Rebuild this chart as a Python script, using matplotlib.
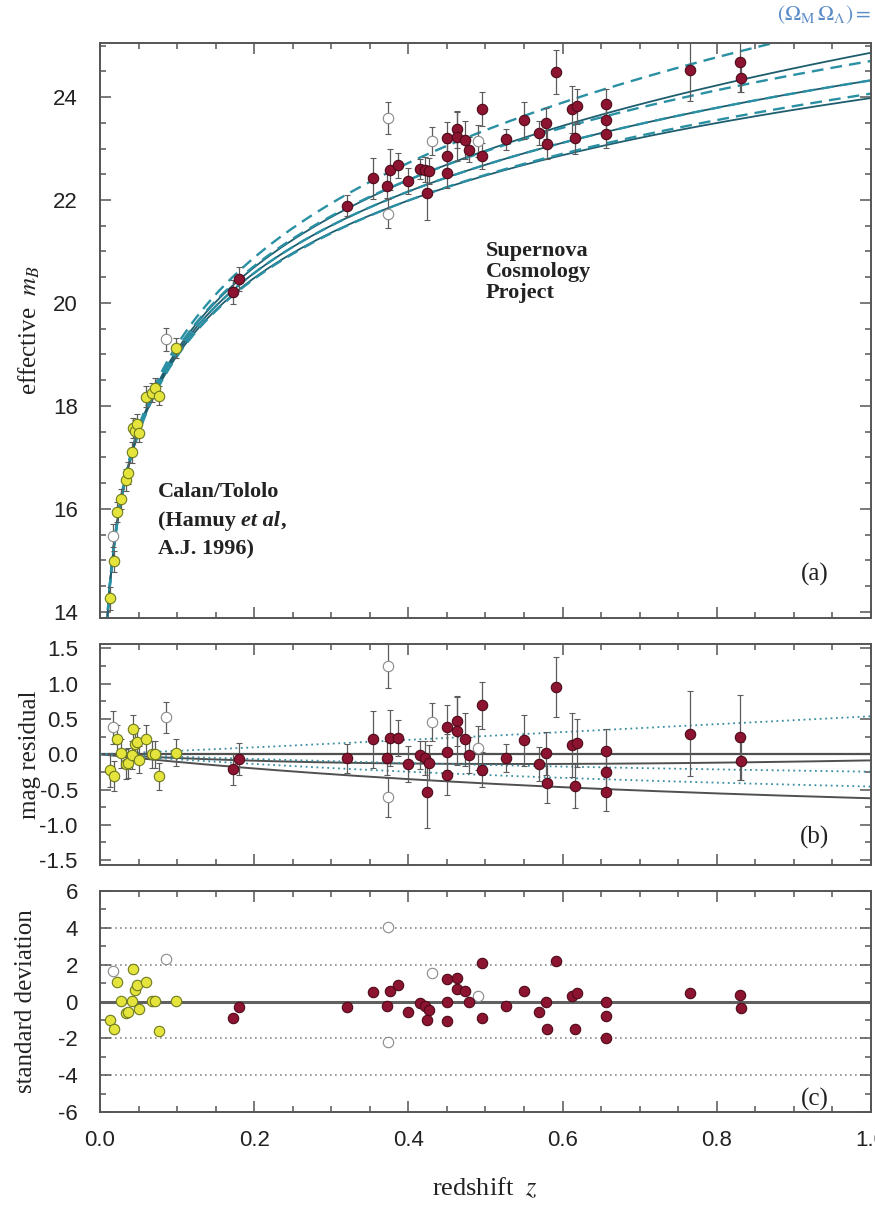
import numpy as np
import matplotlib
matplotlib.use('Agg')
import matplotlib.pyplot as plt
from matplotlib.ticker import MultipleLocator

plt.rcParams['font.family'] = 'Liberation Sans'
plt.rcParams['mathtext.fontset'] = 'stix'
plt.rcParams['axes.unicode_minus'] = False

# Calan/Tololo supernovae (low redshift, filled yellow)
ct_z = [0.0125, 0.018, 0.022, 0.027, 0.034, 0.036, 0.041, 0.043,
        0.046, 0.048, 0.050, 0.060, 0.068, 0.071, 0.076, 0.098]
ct_mag = [14.26, 14.98, 15.94, 16.19, 16.56, 16.70, 17.10, 17.57,
          17.51, 17.64, 17.48, 18.18, 18.26, 18.35, 18.20, 19.12]
ct_resid = [-0.23, -0.31, 0.21, 0.01, -0.14, -0.12, -0.01, 0.35,
            0.14, 0.17, -0.08, 0.21, 0.00, 0.00, -0.31, 0.02]
ct_sigma = [-0.98, -1.49, 1.05, 0.05, -0.65, -0.58, 0.02, 1.74,
            0.65, 0.87, -0.43, 1.05, 0.02, 0.02, -1.61, 0.02]
ct_err = [0.23, 0.21, 0.20, 0.20, 0.21, 0.21, 0.20, 0.20,
          0.21, 0.20, 0.19, 0.20, 0.19, 0.19, 0.19, 0.19]

# Calan/Tololo outliers (open symbols)
ct_out_z = [0.0165, 0.085]
ct_out_mag = [15.48, 19.29]
ct_out_resid = [0.38, 0.52]
ct_out_sigma = [1.65, 2.32]
ct_out_err = [0.23, 0.22]

# Supernova Cosmology Project (high redshift, filled red)
scp_z = [0.172, 0.180, 0.320, 0.354, 0.372, 0.376, 0.387, 0.399, 0.415,
         0.421, 0.427, 0.424, 0.450, 0.450, 0.450, 0.463, 0.463, 0.473,
         0.479, 0.495, 0.495, 0.526, 0.550, 0.569, 0.578, 0.580, 0.591,
         0.612, 0.619, 0.616, 0.656, 0.656, 0.656, 0.765, 0.830, 0.832]
scp_mag = [20.21, 20.46, 21.89, 22.42, 22.27, 22.59, 22.67, 22.37, 22.60,
           22.59, 22.57, 22.14, 23.20, 22.85, 22.52, 23.37, 23.23, 23.16,
           22.98, 23.76, 22.85, 23.18, 23.55, 23.30, 23.49, 23.08, 24.49,
           23.76, 23.82, 23.20, 23.86, 23.56, 23.28, 24.52, 24.69, 24.36]
scp_resid = [-0.21, -0.07, -0.06, 0.21, -0.06, 0.23, 0.23, -0.14, -0.01,
             -0.06, -0.12, -0.53, 0.38, 0.03, -0.30, 0.47, 0.33, 0.21,
             -0.01, 0.69, -0.22, -0.05, 0.20, -0.14, 0.01, -0.41, 0.95,
             0.13, 0.16, -0.45, 0.05, -0.25, -0.53, 0.29, 0.24, -0.10]
scp_sigma = [-0.92, -0.31, -0.29, 0.50, -0.25, 0.56, 0.92, -0.56, -0.07,
             -0.25, -0.47, -0.98, 1.23, 0.00, -1.07, 1.29, 0.69, 0.56,
             -0.04, 2.10, -0.89, -0.25, 0.56, -0.58, -0.03, -1.47, 2.19,
             0.29, 0.47, -1.47, 0.00, -0.76, -1.97, 0.47, 0.38, -0.37]
scp_err = [0.23, 0.23, 0.21, 0.40, 0.24, 0.40, 0.25, 0.25, 0.20,
           0.24, 0.25, 0.52, 0.31, 0.26, 0.28, 0.36, 0.48, 0.37,
           0.25, 0.33, 0.25, 0.20, 0.36, 0.24, 0.30, 0.28, 0.43,
           0.45, 0.34, 0.31, 0.30, 0.33, 0.27, 0.60, 0.60, 0.27]

# SCP outliers (open symbols)
scp_out_z = [0.373, 0.373, 0.430, 0.490]
scp_out_mag = [23.59, 21.73, 23.15, 23.14]
scp_out_resid = [1.25, -0.61, 0.45, 0.09]
scp_out_sigma = [4.06, -2.21, 1.56, 0.29]
scp_out_err = [0.31, 0.28, 0.27, 0.31]

# cosmological models (Omega_M, Omega_Lambda)
m_script = 23.98
models_solid = [(0.0, 0.0), (1.0, 0.0), (2.0, 0.0)]
models_dashed = [(0.0, 1.0), (0.5, 0.5), (1.0, 0.0), (1.5, -0.5)]
best_fit = (0.28, 0.72)
resid_solid = [(0.0, 0.0), (1.0, 0.0)]
resid_dotted = [(0.0, 1.0), (0.5, 0.5), (0.75, 0.25)]

zg = np.linspace(0.0, 1.0, 4001)


def lum_dist(om, ol):
    ok = 1.0 - om - ol
    a = 1.0 + zg
    inv = 1.0 / np.sqrt(om * a**3 + ok * a**2 + ol)
    d = np.concatenate([[0.0], np.cumsum(0.5 * (inv[1:] + inv[:-1]) * np.diff(zg))])
    if ok > 1e-8:
        d = np.sinh(np.sqrt(ok) * d) / np.sqrt(ok)
    elif ok < -1e-8:
        d = np.sin(np.sqrt(-ok) * d) / np.sqrt(-ok)
    return a * d


def model_mag(om, ol):
    return m_script + 5 * np.log10(lum_dist(om, ol)[1:])


zp = zg[1:]
serif = 'Liberation Serif'
red_face, red_edge = '#8c1430', '#4d0a1a'
yel_face, yel_edge = '#e4e43c', '#6f7a1e'
open_edge = '#8a8a8a'
spine_col = '#555555'

fig = plt.figure(figsize=(8.75, 12.07), dpi=100)
ax_a = fig.add_axes([0.1143, 0.4880, 0.8811, 0.4764])
ax_b = fig.add_axes([0.1143, 0.2833, 0.8811, 0.1831])
ax_c = fig.add_axes([0.1143, 0.0787, 0.8811, 0.1831])

err_kw = dict(fmt='o', ms=7.5, mew=0.8, ecolor='#5c5c5c', elinewidth=0.9,
              capsize=2.5, capthick=2, zorder=5)

# ---- (a) Hubble diagram
for om, ol in models_solid:
    ax_a.plot(zp, model_mag(om, ol), color='#1d5d6e', lw=1.3, zorder=2)
for om, ol in models_dashed:
    ax_a.plot(zp, model_mag(om, ol), color='#2a90a4', lw=1.7, dashes=(5, 3), zorder=2)

ax_a.errorbar(ct_out_z, ct_out_mag, yerr=ct_out_err, mfc='white', mec=open_edge, **err_kw)
ax_a.errorbar(ct_z, ct_mag, yerr=ct_err, mfc=yel_face, mec=yel_edge, **err_kw)
ax_a.errorbar(scp_out_z, scp_out_mag, yerr=scp_out_err, mfc='white', mec=open_edge, **err_kw)
ax_a.errorbar(scp_z, scp_mag, yerr=scp_err, mfc=red_face, mec=red_edge, **err_kw)

ax_a.set_ylim(13.88, 25.05)
ax_a.yaxis.set_major_locator(MultipleLocator(2))
ax_a.yaxis.set_minor_locator(MultipleLocator(0.5))

ax_a.text(0.50, 20.60, 'Supernova\nCosmology\nProject', family=serif, fontweight='bold',
          fontsize=16, ha='left', va='center', linespacing=1.05, color='#222222')
ax_a.text(0.075, 16.33, 'Calan/Tololo', family=serif, fontweight='bold', fontsize=16,
          ha='left', va='center', color='#222222')
t1 = ax_a.text(0.075, 15.77, '(Hamuy ', family=serif, fontweight='bold', fontsize=16,
               ha='left', va='center', color='#222222')
t2 = ax_a.annotate('et al', xy=(1, 0), xycoords=t1, family=serif, fontweight='bold',
                   style='italic', fontsize=16, ha='left', va='bottom', color='#222222')
ax_a.annotate(',', xy=(1, 0), xycoords=t2, family=serif, fontweight='bold', fontsize=16,
              ha='left', va='bottom', color='#222222')
ax_a.text(0.075, 15.22, 'A.J. 1996)', family=serif, fontweight='bold', fontsize=16,
          ha='left', va='center', color='#222222')
ax_a.text(0.927, 0.075, '(a)', transform=ax_a.transAxes, family=serif, fontsize=18,
          ha='center', va='center', color='#222222')

# ---- (b) magnitude residuals
best = model_mag(*best_fit)
ax_b.axhline(0, color='#505050', lw=1.6, zorder=2)
for om, ol in resid_solid:
    ax_b.plot(zp, model_mag(om, ol) - best, color='#505050', lw=1.4, zorder=2)
for om, ol in resid_dotted:
    ax_b.plot(zp, model_mag(om, ol) - best, color='#3a8ea2', lw=1.3, ls=(0, (1, 2)), zorder=2)

ax_b.errorbar(ct_out_z, ct_out_resid, yerr=ct_out_err, mfc='white', mec=open_edge, **err_kw)
ax_b.errorbar(ct_z, ct_resid, yerr=ct_err, mfc=yel_face, mec=yel_edge, **err_kw)
ax_b.errorbar(scp_out_z, scp_out_resid, yerr=scp_out_err, mfc='white', mec=open_edge, **err_kw)
ax_b.errorbar(scp_z, scp_resid, yerr=scp_err, mfc=red_face, mec=red_edge, **err_kw)

ax_b.set_ylim(-1.57, 1.56)
ax_b.yaxis.set_major_locator(MultipleLocator(0.5))
ax_b.yaxis.set_minor_locator(MultipleLocator(0.25))
ax_b.text(0.927, 0.127, '(b)', transform=ax_b.transAxes, family=serif, fontsize=18,
          ha='center', va='center', color='#222222')

# ---- (c) residuals in units of standard deviation
ax_c.axhline(0, color='#606060', lw=2.2, zorder=2)
for yv in (-4, -2, 2, 4):
    ax_c.axhline(yv, color='#8a8a8a', lw=1.2, ls=(0, (1, 2)), zorder=1)

pt_kw = dict(ls='none', marker='o', ms=7.5, mew=0.8, zorder=5)
ax_c.plot(ct_out_z, ct_out_sigma, mfc='white', mec=open_edge, **pt_kw)
ax_c.plot(ct_z, ct_sigma, mfc=yel_face, mec=yel_edge, **pt_kw)
ax_c.plot(scp_out_z, scp_out_sigma, mfc='white', mec=open_edge, **pt_kw)
ax_c.plot(scp_z, scp_sigma, mfc=red_face, mec=red_edge, **pt_kw)

ax_c.set_ylim(-6, 6)
ax_c.yaxis.set_major_locator(MultipleLocator(2))
ax_c.yaxis.set_minor_locator(MultipleLocator(1))
ax_c.text(0.927, 0.055, '(c)', transform=ax_c.transAxes, family=serif, fontsize=18,
          ha='center', va='center', color='#222222')

for ax in (ax_a, ax_b, ax_c):
    ax.set_xlim(0, 1.0)
    ax.xaxis.set_major_locator(MultipleLocator(0.2))
    ax.xaxis.set_minor_locator(MultipleLocator(0.05))
    ax.tick_params(which='both', direction='in', top=True, right=True,
                   color=spine_col, width=1.1, labelsize=16, labelcolor='#222222')
    ax.tick_params(which='major', length=8)
    ax.tick_params(which='minor', length=4)
    ax.tick_params(axis='y', pad=16)
    ax.tick_params(axis='x', pad=13)
    for sp in ax.spines.values():
        sp.set_color(spine_col)
        sp.set_linewidth(1.4)
    if ax is not ax_c:
        ax.tick_params(labelbottom=False)

ax_c.xaxis.set_major_formatter(plt.FuncFormatter(lambda v, p: f'{v:.1f}'))
ax_b.yaxis.set_major_formatter(plt.FuncFormatter(lambda v, p: f'{v:.1f}'))

fig.text(0.034, 0.7266, 'effective  $m_B$', family=serif, fontsize=18, rotation=90,
         ha='center', va='center', color='#222222')
fig.text(0.034, 0.3748, 'mag residual', family=serif, fontsize=18, rotation=90,
         ha='center', va='center', color='#222222')
fig.text(0.030, 0.1702, 'standard deviation', family=serif, fontsize=18, rotation=90,
         ha='center', va='center', color='#222222')
fig.text(0.554, 0.016, 'redshift  $z$', family=serif, fontsize=19,
         ha='center', va='center', color='#222222')
fig.text(0.888, 0.9876, r'$(\Omega_{\rm M}\,\Omega_\Lambda) =$', fontsize=15.5,
         ha='left', va='center', color='#5b8cc8')

fig.savefig('out.png', dpi=100)
